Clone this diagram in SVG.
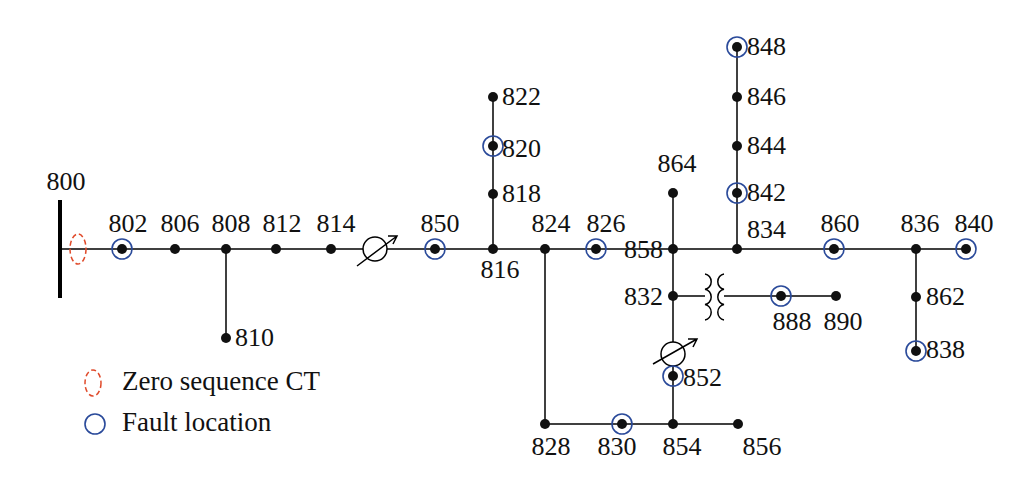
<svg xmlns="http://www.w3.org/2000/svg" width="1016" height="478" viewBox="0 0 1016 478">
<style>
.l{stroke:#000;stroke-width:1.5;fill:none}
.n{fill:#111}
.f{fill:none;stroke:#2a4a9a;stroke-width:1.6}
text{font-family:"Liberation Serif","Times New Roman",serif;font-size:26px;fill:#111}
.c{text-anchor:middle}
.e{text-anchor:end}
.g{font-size:27px}
</style>
<rect width="1016" height="478" fill="#fff"/>
<g id="connectors">
<line class="l" x1="60" y1="249" x2="966" y2="249"/>
<line x1="60" y1="200" x2="60" y2="298" stroke="#000" stroke-width="4"/>
<line class="l" x1="226" y1="249" x2="226" y2="338"/>
<line class="l" x1="493" y1="249" x2="493" y2="97"/>
<line class="l" x1="545" y1="249" x2="545" y2="424"/>
<line class="l" x1="545" y1="424" x2="738" y2="424"/>
<line class="l" x1="673" y1="193" x2="673" y2="424"/>
<line class="l" x1="737" y1="249" x2="737" y2="47"/>
<line class="l" x1="916" y1="249" x2="916" y2="351"/>
<line class="l" x1="673" y1="296" x2="705" y2="296"/>
<line class="l" x1="724" y1="296" x2="836" y2="296"/>
<path class="l" d="M705,274 a7,7.7 0 0 1 0,15.3 a7,7.7 0 0 1 0,15.3 a7,7.7 0 0 1 0,15.3"/>
<path class="l" d="M724,274 a7,7.7 0 0 0 0,15.3 a7,7.7 0 0 0 0,15.3 a7,7.7 0 0 0 0,15.3"/>
<circle cx="375" cy="249" r="12" fill="#fff" stroke="#000" stroke-width="1.5"/>
<path class="l" d="M357,266 L397,236 M388,236 L397,236 L393,244"/>
<circle cx="673" cy="354" r="12" fill="#fff" stroke="#000" stroke-width="1.5"/>
<path class="l" d="M653,364 L697,339 M688,339 L697,339 L693,347"/>
<ellipse cx="78" cy="249" rx="8" ry="15" fill="none" stroke="#e04a2a" stroke-width="1.5" stroke-dasharray="5,3"/>
</g>
<g id="nodes">
<g id="n802"><circle class="n" cx="122" cy="249" r="5"/><circle class="f" cx="122" cy="249" r="10"/><text class="c" x="128" y="232">802</text></g>
<g id="n806"><circle class="n" cx="175" cy="249" r="5"/><text class="c" x="180" y="232">806</text></g>
<g id="n808"><circle class="n" cx="226" cy="249" r="5"/><text class="c" x="231" y="232">808</text></g>
<g id="n812"><circle class="n" cx="276" cy="249" r="5"/><text class="c" x="282" y="232">812</text></g>
<g id="n814"><circle class="n" cx="331" cy="249" r="5"/><text class="c" x="336" y="232">814</text></g>
<g id="n850"><circle class="n" cx="435" cy="249" r="5"/><circle class="f" cx="435" cy="249" r="10"/><text class="c" x="440" y="232">850</text></g>
<g id="n816"><circle class="n" cx="493" cy="249" r="5"/><text class="c" x="500" y="278">816</text></g>
<g id="n818"><circle class="n" cx="493" cy="194" r="5"/><text x="502" y="202">818</text></g>
<g id="n820"><circle class="n" cx="493" cy="146" r="5"/><circle class="f" cx="493" cy="146" r="10"/><text x="502" y="157">820</text></g>
<g id="n822"><circle class="n" cx="493" cy="97" r="5"/><text x="502" y="105">822</text></g>
<g id="n824"><circle class="n" cx="545" cy="249" r="5"/><text class="c" x="551" y="232">824</text></g>
<g id="n826"><circle class="n" cx="596" cy="249" r="5"/><circle class="f" cx="596" cy="249" r="10"/><text class="c" x="606" y="232">826</text></g>
<g id="n810"><circle class="n" cx="226" cy="338" r="5"/><text x="235" y="346">810</text></g>
<g id="n828"><circle class="n" cx="545" cy="424" r="5"/><text class="c" x="551" y="455">828</text></g>
<g id="n830"><circle class="n" cx="622" cy="424" r="5"/><circle class="f" cx="622" cy="424" r="10"/><text class="c" x="617" y="455">830</text></g>
<g id="n854"><circle class="n" cx="673" cy="424" r="5"/><text class="c" x="682" y="455">854</text></g>
<g id="n856"><circle class="n" cx="738" cy="424" r="5"/><text class="c" x="762" y="455">856</text></g>
<g id="n858"><circle class="n" cx="673" cy="249" r="5"/><text class="e" x="663" y="258">858</text></g>
<g id="n864"><circle class="n" cx="673" cy="193" r="5"/><text class="c" x="677" y="172">864</text></g>
<g id="n832"><circle class="n" cx="673" cy="296" r="5"/><text class="e" x="663" y="305">832</text></g>
<g id="n852"><circle class="n" cx="673" cy="376" r="5"/><circle class="f" cx="673" cy="376" r="10"/><text x="683" y="386">852</text></g>
<g id="n888"><circle class="n" cx="781" cy="296" r="5"/><circle class="f" cx="781" cy="296" r="10"/><text class="c" x="792" y="330">888</text></g>
<g id="n890"><circle class="n" cx="836" cy="296" r="5"/><text class="c" x="843" y="330">890</text></g>
<g id="n834"><circle class="n" cx="737" cy="249" r="5"/><text x="747" y="238">834</text></g>
<g id="n842"><circle class="n" cx="737" cy="193" r="5"/><circle class="f" cx="737" cy="193" r="10"/><text x="747" y="201">842</text></g>
<g id="n844"><circle class="n" cx="737" cy="146" r="5"/><text x="747" y="154">844</text></g>
<g id="n846"><circle class="n" cx="737" cy="97" r="5"/><text x="747" y="105">846</text></g>
<g id="n848"><circle class="n" cx="737" cy="47" r="5"/><circle class="f" cx="737" cy="47" r="10"/><text x="747" y="55">848</text></g>
<g id="n860"><circle class="n" cx="834" cy="249" r="5"/><circle class="f" cx="834" cy="249" r="10"/><text class="c" x="840" y="232">860</text></g>
<g id="n836"><circle class="n" cx="916" cy="249" r="5"/><text class="c" x="920" y="232">836</text></g>
<g id="n840"><circle class="n" cx="966" cy="249" r="5"/><circle class="f" cx="966" cy="249" r="10"/><text class="c" x="974" y="232">840</text></g>
<g id="n862"><circle class="n" cx="916" cy="297" r="5"/><text x="926" y="305">862</text></g>
<g id="n838"><circle class="n" cx="916" cy="351" r="5"/><circle class="f" cx="916" cy="351" r="10"/><text x="926" y="358">838</text></g>
<g id="n800"><text class="c" x="66" y="190">800</text></g>
</g>
<g id="legend">
<ellipse cx="93" cy="383" rx="8" ry="13" fill="none" stroke="#e04a2a" stroke-width="1.5" stroke-dasharray="5,3"/>
<text class="g" x="122" y="390">Zero sequence CT</text>
<circle class="f" cx="95" cy="424" r="10"/>
<text class="g" x="122" y="431">Fault location</text>
</g>
</svg>
